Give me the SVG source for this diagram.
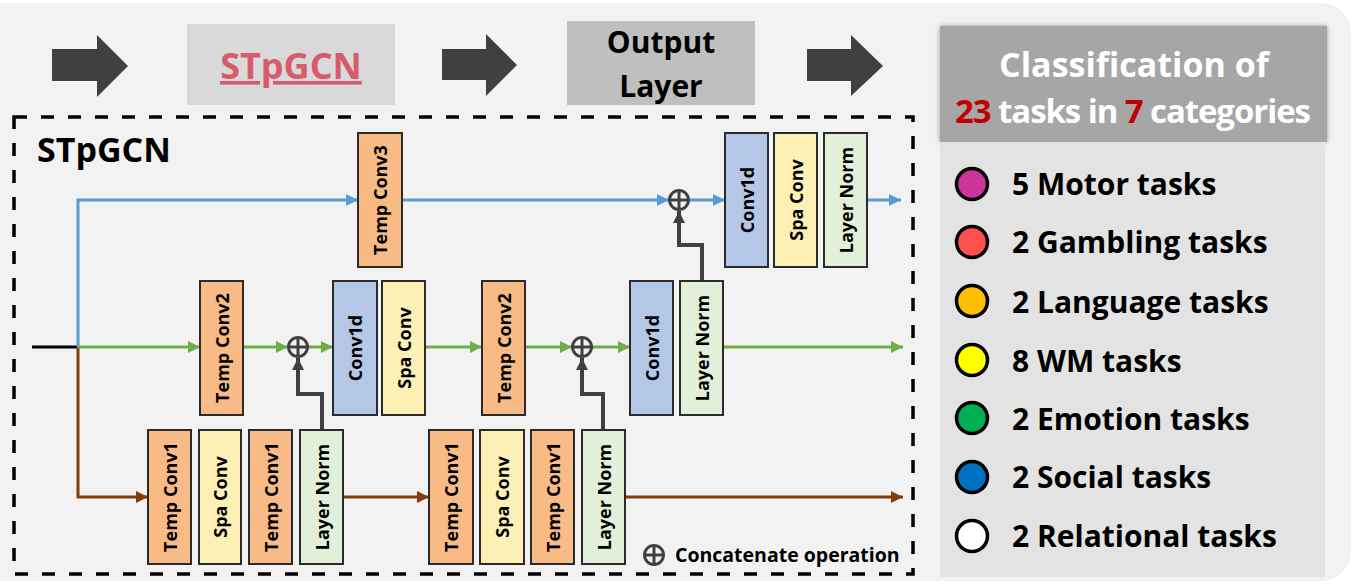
<svg xmlns="http://www.w3.org/2000/svg" width="1362" height="584" viewBox="0 0 1362 584">
<defs>
<style>
text{font-family:"Open Sans","Liberation Sans",sans-serif;font-weight:bold;}
.blk{stroke:#2b2b2b;stroke-width:2;}
.tc{fill:#f8bb86;}
.sc{fill:#fcf0b4;}
.cd{fill:#b4c7e7;}
.ln{fill:#e2f0d9;}
.bl{font-size:18px;fill:#000;text-anchor:middle;dominant-baseline:central;}
.con{fill:none;stroke-width:3;}
.blue{stroke:#5b9bd5;}
.green{stroke:#70ad47;}
.brown{stroke:#843c0c;}
.gray{stroke:#404040;stroke-width:4;}
.plus{fill:none;stroke:#404040;stroke-width:3;}
.bigarrow{fill:#404040;}
.leg{font-size:30px;fill:#000;}
.dot{stroke:#000;stroke-width:3.5;}
</style>
<marker id="mBlue" viewBox="0 0 10 10" refX="10" refY="5" markerWidth="12" markerHeight="12" markerUnits="userSpaceOnUse" orient="auto"><path d="M0,0 L10,5 L0,10 z" fill="#5b9bd5"/></marker>
<marker id="mGreen" viewBox="0 0 10 10" refX="10" refY="5" markerWidth="12" markerHeight="12" markerUnits="userSpaceOnUse" orient="auto"><path d="M0,0 L10,5 L0,10 z" fill="#70ad47"/></marker>
<marker id="mBrown" viewBox="0 0 10 10" refX="10" refY="5" markerWidth="12" markerHeight="12" markerUnits="userSpaceOnUse" orient="auto"><path d="M0,0 L10,5 L0,10 z" fill="#843c0c"/></marker>
<marker id="mGray" viewBox="0 0 10 10" refX="10" refY="5" markerWidth="12" markerHeight="12" markerUnits="userSpaceOnUse" orient="auto"><path d="M0,0 L10,5 L0,10 z" fill="#404040"/></marker>
<filter id="shadow" x="-5%" y="-10%" width="110%" height="120%">
<feGaussianBlur in="SourceAlpha" stdDeviation="2.5" result="b"/>
<feFlood flood-color="#808080" flood-opacity="0.8"/>
<feComposite in2="b" operator="in" result="s"/>
<feMerge><feMergeNode in="s"/><feMergeNode in="SourceGraphic"/></feMerge>
</filter>
</defs>

<rect x="0" y="0" width="1362" height="584" fill="#ffffff"/>
<rect x="-30" y="3" width="1381" height="578" rx="30" fill="#f2f2f2"/>

<!-- top pipeline -->
<g id="arrow1"><polygon class="bigarrow" points="52,49 97,49 97,35 128,66 97,97 97,81 52,81"/></g>
<g id="stpgcn-box">
<rect x="187" y="24" width="208" height="81" fill="#d9d9d9"/>
<text x="291" y="79" font-size="36" fill="#d75b6b" text-anchor="middle" text-decoration="underline">STpGCN</text>
</g>
<g id="arrow2"><polygon class="bigarrow" points="442,49 486,49 486,34 517,65 486,96 486,80 442,80"/></g>
<g id="output-layer">
<rect x="567" y="21" width="188" height="84" fill="#bfbfbf"/>
<text x="661" y="53" font-size="30" fill="#000" text-anchor="middle">Output</text>
<text x="661" y="97" font-size="30" fill="#000" text-anchor="middle">Layer</text>
</g>
<g id="arrow3"><polygon class="bigarrow" points="807,49 851,49 851,35 883,66 851,96 851,81 807,81"/></g>

<!-- dashed STpGCN container -->
<g id="stpgcn-container">
<rect x="14" y="117" width="899" height="457" fill="none" stroke="#000" stroke-width="3.5" stroke-dasharray="13,14"/>
<text x="37" y="162" font-size="34" fill="#000">STpGCN</text>
</g>

<!-- connectors -->
<g id="connectors">
<path class="con" stroke="#000" d="M32,347 H79"/>
<path class="con blue" d="M78,347 V200 H358" marker-end="url(#mBlue)"/>
<path class="con blue" d="M402,200 H669" marker-end="url(#mBlue)"/>
<path class="con blue" d="M689,200 H725" marker-end="url(#mBlue)"/>
<path class="con blue" d="M867,200 H901" marker-end="url(#mBlue)"/>
<path class="con brown" d="M78,347 V497 H148" marker-end="url(#mBrown)"/>
<path class="con brown" d="M343,497 H429" marker-end="url(#mBrown)"/>
<path class="con brown" d="M625,497 H903" marker-end="url(#mBrown)"/>
<path class="con green" d="M78,347 H200" marker-end="url(#mGreen)"/>
<path class="con green" d="M243,347 H288" marker-end="url(#mGreen)"/>
<path class="con green" d="M308,347 H333" marker-end="url(#mGreen)"/>
<path class="con green" d="M425,347 H482" marker-end="url(#mGreen)"/>
<path class="con green" d="M525,347 H572" marker-end="url(#mGreen)"/>
<path class="con green" d="M592,347 H630" marker-end="url(#mGreen)"/>
<path class="con green" d="M723,347 H903" marker-end="url(#mGreen)"/>
<path class="con gray" d="M702,282 V245 H679 V211" marker-end="url(#mGray)"/>
<path class="con gray" d="M322,430 V394 H298 V358" marker-end="url(#mGray)"/>
<path class="con gray" d="M603,430 V394 H582 V358" marker-end="url(#mGray)"/>
</g>

<!-- concat nodes -->
<g id="concat-top"><circle class="plus" cx="679" cy="200" r="9.5"/><path class="plus" d="M669.5,200 H688.5 M679,190.5 V209.5"/></g>
<g id="concat-mid1"><circle class="plus" cx="298" cy="347" r="9.5"/><path class="plus" d="M288.5,347 H307.5 M298,337.5 V356.5"/></g>
<g id="concat-mid2"><circle class="plus" cx="582" cy="347" r="9.5"/><path class="plus" d="M572.5,347 H591.5 M582,337.5 V356.5"/></g>

<!-- top row blocks -->
<g id="tempconv3"><rect class="blk tc" x="358" y="133" width="44" height="134"/><text class="bl" transform="translate(380,200) rotate(-90)">Temp Conv3</text></g>
<g id="top-conv1d"><rect class="blk cd" x="725" y="133" width="43" height="134"/><text class="bl" transform="translate(746.5,200) rotate(-90)">Conv1d</text></g>
<g id="top-spaconv"><rect class="blk sc" x="774" y="133" width="43" height="134"/><text class="bl" transform="translate(795.5,200) rotate(-90)">Spa Conv</text></g>
<g id="top-layernorm"><rect class="blk ln" x="824" y="133" width="43" height="134"/><text class="bl" transform="translate(845.5,200) rotate(-90)">Layer Norm</text></g>

<!-- middle row blocks -->
<g id="mid-tempconv2a"><rect class="blk tc" x="200" y="281" width="43" height="134"/><text class="bl" transform="translate(221.5,348) rotate(-90)">Temp Conv2</text></g>
<g id="mid-conv1d-a"><rect class="blk cd" x="333" y="281" width="44" height="134"/><text class="bl" transform="translate(355,348) rotate(-90)">Conv1d</text></g>
<g id="mid-spaconv"><rect class="blk sc" x="382" y="281" width="43" height="134"/><text class="bl" transform="translate(403.5,348) rotate(-90)">Spa Conv</text></g>
<g id="mid-tempconv2b"><rect class="blk tc" x="482" y="281" width="43" height="134"/><text class="bl" transform="translate(503.5,348) rotate(-90)">Temp Conv2</text></g>
<g id="mid-conv1d-b"><rect class="blk cd" x="630" y="281" width="43" height="134"/><text class="bl" transform="translate(651.5,348) rotate(-90)">Conv1d</text></g>
<g id="mid-layernorm"><rect class="blk ln" x="680" y="281" width="43" height="134"/><text class="bl" transform="translate(701.5,348) rotate(-90)">Layer Norm</text></g>

<!-- bottom row blocks -->
<g id="bot-tempconv1a"><rect class="blk tc" x="148" y="430" width="43" height="134"/><text class="bl" transform="translate(169.5,497) rotate(-90)">Temp Conv1</text></g>
<g id="bot-spaconv-a"><rect class="blk sc" x="199" y="430" width="42" height="134"/><text class="bl" transform="translate(220,497) rotate(-90)">Spa Conv</text></g>
<g id="bot-tempconv1b"><rect class="blk tc" x="249" y="430" width="43" height="134"/><text class="bl" transform="translate(270.5,497) rotate(-90)">Temp Conv1</text></g>
<g id="bot-layernorm-a"><rect class="blk ln" x="300" y="430" width="43" height="134"/><text class="bl" transform="translate(321.5,497) rotate(-90)">Layer Norm</text></g>
<g id="bot-tempconv1c"><rect class="blk tc" x="429" y="430" width="44" height="134"/><text class="bl" transform="translate(451,497) rotate(-90)">Temp Conv1</text></g>
<g id="bot-spaconv-b"><rect class="blk sc" x="480" y="430" width="44" height="134"/><text class="bl" transform="translate(502,497) rotate(-90)">Spa Conv</text></g>
<g id="bot-tempconv1d"><rect class="blk tc" x="531" y="430" width="43" height="134"/><text class="bl" transform="translate(552.5,497) rotate(-90)">Temp Conv1</text></g>
<g id="bot-layernorm-b"><rect class="blk ln" x="582" y="430" width="43" height="134"/><text class="bl" transform="translate(603.5,497) rotate(-90)">Layer Norm</text></g>

<!-- concat legend -->
<g id="concat-legend">
<circle class="plus" cx="654" cy="555" r="9.5"/><path class="plus" d="M644.5,555 H663.5 M654,545.5 V564.5"/>
<text x="675" y="562" font-size="19.5" fill="#000">Concatenate operation</text>
</g>

<!-- right panel -->
<g id="classification-header">
<rect x="940" y="26" width="387" height="116" fill="#a6a6a6" filter="url(#shadow)"/>
<text x="1134" y="77" font-size="34" fill="#fff" text-anchor="middle">Classification of</text>
<text x="1133" y="123" font-size="33" fill="#fff" text-anchor="middle" textLength="356"><tspan fill="#c00000">23</tspan> tasks in <tspan fill="#c00000">7</tspan> categories</text>
</g>
<g id="legend-panel">
<rect x="940" y="142" width="385" height="435" fill="#e3e3e3"/>
</g>
<g id="leg-motor"><circle class="dot" cx="972" cy="184" r="15.5" fill="#cc3399"/><text class="leg" x="1012" y="195">5 Motor tasks</text></g>
<g id="leg-gambling"><circle class="dot" cx="972" cy="242" r="15.5" fill="#ff5050"/><text class="leg" x="1012" y="253">2 Gambling tasks</text></g>
<g id="leg-language"><circle class="dot" cx="972" cy="301" r="15.5" fill="#ffc000"/><text class="leg" x="1012" y="313">2 Language tasks</text></g>
<g id="leg-wm"><circle class="dot" cx="972" cy="360" r="15.5" fill="#ffff00"/><text class="leg" x="1012" y="372">8 WM tasks</text></g>
<g id="leg-emotion"><circle class="dot" cx="972" cy="418" r="15.5" fill="#00b050"/><text class="leg" x="1012" y="430">2 Emotion tasks</text></g>
<g id="leg-social"><circle class="dot" cx="972" cy="477" r="15.5" fill="#0070c0"/><text class="leg" x="1012" y="488">2 Social tasks</text></g>
<g id="leg-relational"><circle class="dot" cx="972" cy="536" r="15.5" fill="#ffffff"/><text class="leg" x="1012" y="547">2 Relational tasks</text></g>
</svg>
